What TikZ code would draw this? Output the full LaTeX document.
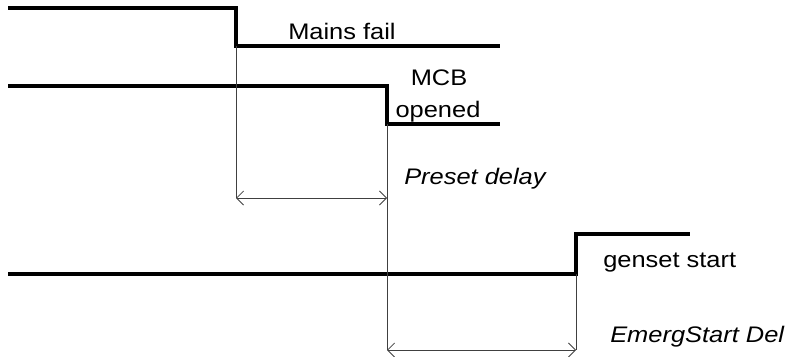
\documentclass[tikz,border=0pt]{standalone}
\usepackage{fontspec}
\setmainfont{Liberation Sans}[FakeStretch=1.13]
\usetikzlibrary{arrows.meta}

\begin{document}
\begin{tikzpicture}[
  x=0.025cm, y=-0.025cm,
  signal/.style={line width=2.3pt, line join=miter},
  guide/.style={line width=0.6pt, black!75},
  span/.style={guide, {Straight Barb[length=5pt,width=10pt]}-{Straight Barb[length=5pt,width=10pt]}},
  lab/.style={inner sep=0pt, font=\fontsize{16}{19}\selectfont},
]
\useasboundingbox (0,0) rectangle (794,356);

% Mains signal
\coordinate (mainsA) at (8,8);
\coordinate (mainsB) at (236,8);
\coordinate (mainsC) at (236,46);
\coordinate (mainsD) at (500,46);
\draw[signal] (mainsA) -- (mainsB) -- (mainsC) -- (mainsD);
\node[lab, anchor=base west] (mainsfail) at (288,39) {Mains fail};

% MCB signal
\coordinate (mcbA) at (8,86);
\coordinate (mcbB) at (387,86);
\coordinate (mcbC) at (387,124);
\coordinate (mcbD) at (500,124);
\draw[signal] (mcbA) -- (mcbB) -- (mcbC) -- (mcbD);
\node[lab, anchor=base] (mcb) at (439,85) {MCB};
\node[lab, anchor=base] (opened) at (438,117) {opened};

% Genset signal
\coordinate (genA) at (8,274);
\coordinate (genB) at (576,274);
\coordinate (genC) at (576,234);
\coordinate (genD) at (690,234);
\draw[signal] (genA) -- (genB) -- (genC) -- (genD);
\node[lab, anchor=base west] (gensetstart) at (603,267) {genset start};

% Delays
\coordinate (presetL) at (236,198);
\coordinate (presetR) at (387,198);
\coordinate (emergL) at (387,350);
\coordinate (emergR) at (576,350);
\draw[guide] (mainsC) -- (presetL);
\draw[guide] (mcbC) -- (emergL);
\draw[guide] (genB) -- (emergR);
\draw[span] (presetL) -- (presetR);
\draw[span] (emergL) -- (emergR);
\node[lab, anchor=base west, font=\fontsize{16}{19}\selectfont\itshape] (presetdelay) at (404,184) {Preset delay};
\node[lab, anchor=base west, font=\fontsize{16}{19}\selectfont\itshape] (emergdel) at (610,342) {EmergStart Del};
\end{tikzpicture}
\end{document}
